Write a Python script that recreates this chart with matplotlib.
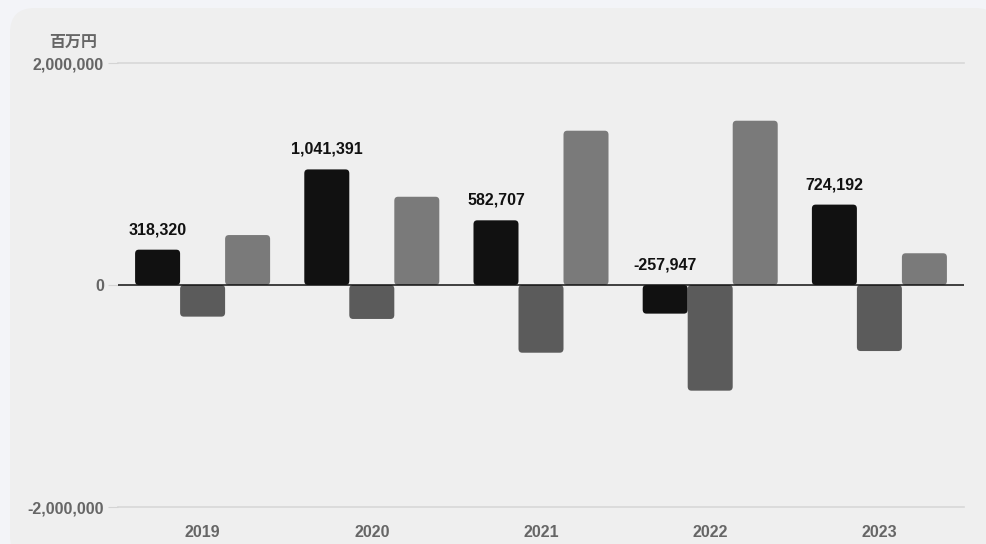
import numpy as np
import matplotlib.pyplot as plt
from matplotlib.patches import FancyBboxPatch

years = ["2019", "2020", "2021", "2022", "2023"]
series_a = [318320, 1041391, 582707, -257947, 724192]
series_b = [-285000, -306000, -610000, -952000, -595000]
series_c = [450000, 795000, 1390000, 1480000, 286000]
colors = ["#111111", "#5b5b5b", "#7a7a7a"]

plt.rcParams['font.family'] = ['Liberation Sans', 'Noto Sans CJK JP', 'DejaVu Sans']

fig = plt.figure(figsize=(9.86, 5.44), dpi=100)
fig.patch.set_facecolor("#f3f4f8")

# card background
card = FancyBboxPatch((10 / 986, -0.03), 990 / 986, (544 - 8) / 544 + 0.03,
                      boxstyle="round,pad=0,rounding_size=0.025",
                      mutation_aspect=986 / 544,
                      transform=fig.transFigure, facecolor="#efefef",
                      edgecolor="none", zorder=-5)
fig.patches.append(card)

ax = fig.add_axes([118 / 986, (544 - 507) / 544, (964 - 118) / 986, (507 - 63) / 544])
ax.set_facecolor("none")
ax.set_zorder(2)

x = np.arange(len(years))
w = 0.266
rad_x = 0.022
rad_y = 36000
for i, (vals, c) in enumerate(zip([series_a, series_b, series_c], colors)):
    bars = ax.bar(x + (i - 1) * w, vals, w, color=c)
    for b in bars:
        bx, by = b.get_x(), b.get_y()
        bw, bh = b.get_width(), b.get_height()
        b.remove()
        y0 = min(by, by + bh)
        p = FancyBboxPatch((bx, y0), bw, abs(bh),
                           boxstyle="round,pad=0,rounding_size=%f" % rad_x,
                           mutation_aspect=rad_y / rad_x,
                           facecolor=c, edgecolor="none", zorder=2)
        ax.add_patch(p)

for xi, v in zip(x, series_a):
    ax.annotate(f"{v:,}", (xi - w, max(v, 0)), xytext=(0, 9),
                textcoords="offset points", ha="center", va="bottom",
                fontsize=11.5, fontweight="bold", color="#111111")

ax.set_xlim(-0.5, len(years) - 0.5)
ax.set_ylim(-2000000, 2000000)
ax.set_yticks([-2000000, 0, 2000000])
ax.set_yticklabels([f"{v:,}" for v in [-2000000, 0, 2000000]])
ax.set_xticks(x)
ax.set_xticklabels(years)
ax.tick_params(axis="y", length=7, color="#d4d4d4", pad=3, labelsize=11.5,
               labelcolor="#666666")
ax.tick_params(axis="x", length=0, pad=13, labelsize=11.5, labelcolor="#666666")
for lab in ax.get_xticklabels() + ax.get_yticklabels():
    lab.set_fontweight("bold")

for v in [-2000000, 2000000]:
    ax.axhline(v, color="#d8d8d8", lw=1.2, zorder=1, clip_on=False)
ax.axhline(0, color="#111111", lw=1.1, zorder=3)

for s in ax.spines.values():
    s.set_visible(False)

fig.text(73 / 986, 1 - 42 / 544, "百万円", ha="center", va="center",
         fontsize=11.5, fontweight="bold", color="#666666",
         family=['Noto Sans CJK JP', 'DejaVu Sans'])

fig.savefig("out.png", dpi=100, facecolor=fig.get_facecolor())
